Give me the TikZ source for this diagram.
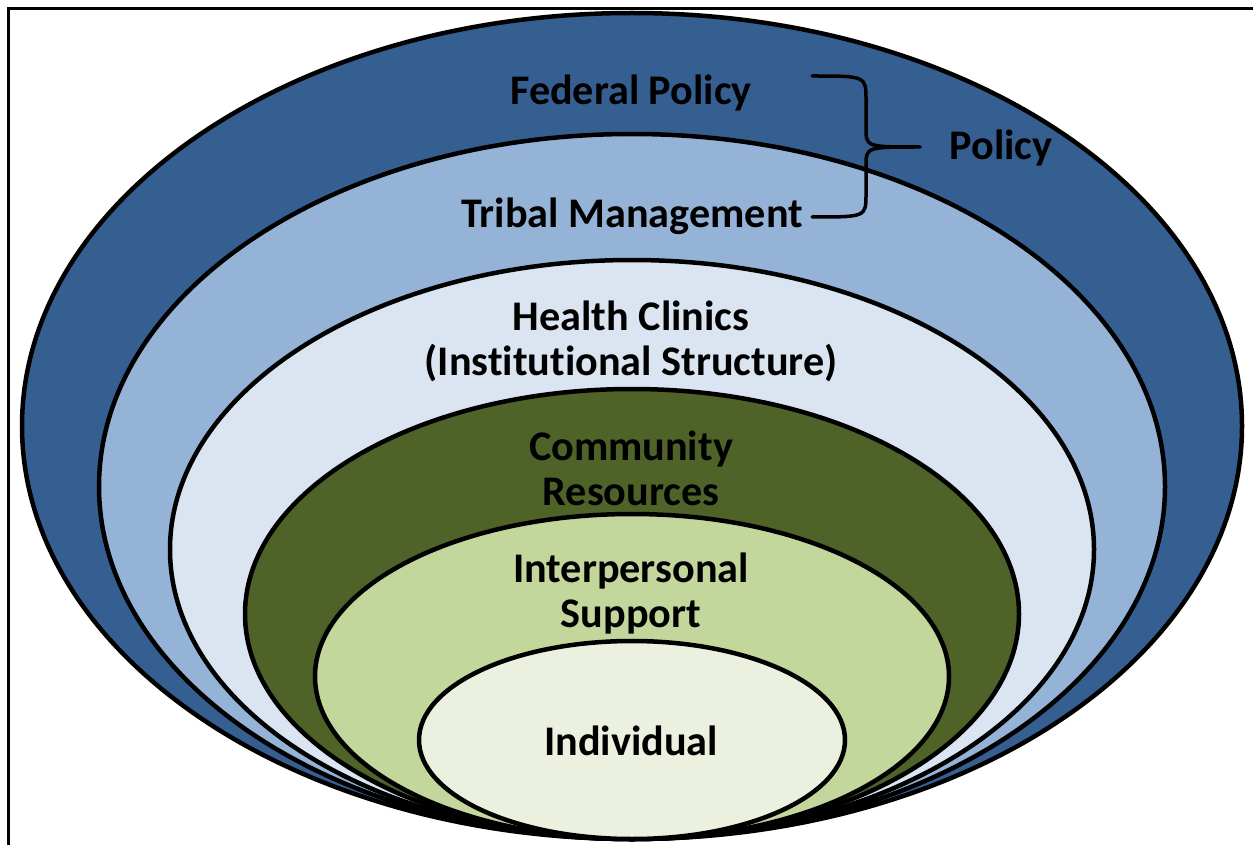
\documentclass[tikz,border=0pt]{standalone}
\usepackage{fontspec}
\setmainfont{Carlito}[Ligatures=NoCommon]
\begin{document}
\begin{tikzpicture}[x=1pt,y=-1pt,
  ring/.style={draw=black,line width=4.5pt},
  lbl/.style={font=\fontsize{42.2}{45}\selectfont\bfseries,align=center,inner sep=0pt,text=black},
  bracket/.style={draw=black,line width=3.5pt,line cap=round,line join=round}]
\definecolor{navyband}{RGB}{54,95,145}
\definecolor{skyband}{RGB}{149,179,215}
\definecolor{paleband}{RGB}{219,229,241}
\definecolor{oliveband}{RGB}{79,98,40}
\definecolor{sageband}{RGB}{195,214,155}
\definecolor{creamband}{RGB}{235,241,222}
\useasboundingbox (0,0) rectangle (1253,845);
% partial frame (left and top edges)
\draw[line width=3pt] (8,845) -- (8,9) -- (1253,9);
% nested ellipses, all meeting at the bottom
\filldraw[ring,fill=navyband]  (632,426)   ellipse [x radius=610, y radius=413];
\filldraw[ring,fill=skyband]   (632,486.5) ellipse [x radius=533, y radius=352.5];
\filldraw[ring,fill=paleband]  (632,549.5) ellipse [x radius=462, y radius=289.5];
\filldraw[ring,fill=oliveband] (632,614)   ellipse [x radius=387, y radius=225];
\filldraw[ring,fill=sageband]  (632,676.5) ellipse [x radius=317, y radius=162.5];
\filldraw[ring,fill=creamband] (632,740)   ellipse [x radius=213, y radius=99];
% labels (\kern0pt keeps the t and i of "Institutional" apart)
\node[lbl] (federal) at (631,93) {Federal Policy};
\node[lbl] (tribal) at (632,216) {Tribal Management};
\node[lbl] (clinics) at (631,341) {Health Clinics\\(Inst\kern0pt itut\kern0pt ional Structure)};
\node[lbl] (community) at (631,468) {Community\\Resources};
\node[lbl] (interpersonal) at (631,594) {Interpersonal\\Support};
\node[lbl] (individual) at (631,741) {Individual};
\node[lbl] (policy) at (1001,148) {Policy};
% curly brace grouping the two policy levels
\coordinate (bracetop) at (812,76);
\coordinate (bracebot) at (812,217);
\coordinate (bracetip) at (920,147);
\draw[bracket] (bracetop) .. controls (866,76) .. (866,100) -- (866,128)
  .. controls (866,147) .. (bracetip)
  .. controls (866,147) .. (866,166) -- (866,194)
  .. controls (866,217) .. (bracebot);
\end{tikzpicture}
\end{document}
